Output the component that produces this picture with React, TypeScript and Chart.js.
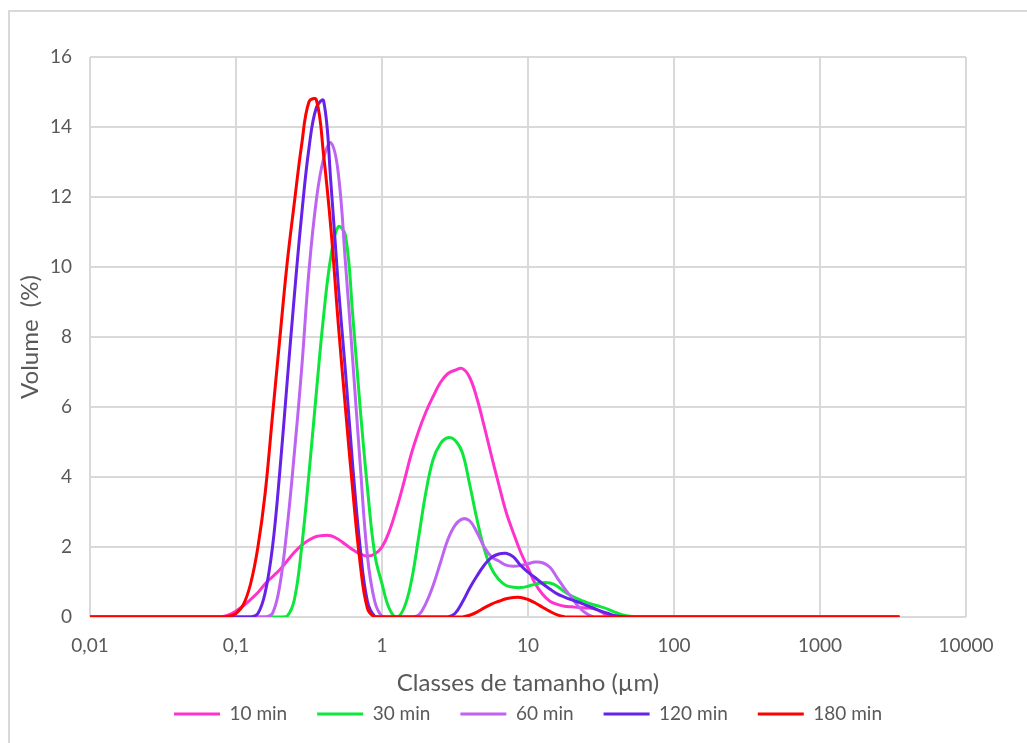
import { useEffect, useRef } from "react";
import { Chart, registerables } from "chart.js";

Chart.register(...registerables);

// Particle size classes (µm) shared by every measurement
const SIZE_CLASSES = [
  0.01, 0.0708, 0.0794, 0.0891, 0.1, 0.1122, 0.1259, 0.1413, 0.1585, 0.1778,
  0.1995, 0.2239, 0.2512, 0.2818, 0.3162, 0.3548, 0.3981, 0.4467, 0.5012, 0.5623,
  0.631, 0.7079, 0.7943, 0.8913, 1.0, 1.122, 1.259, 1.413, 1.585, 1.778,
  1.995, 2.239, 2.512, 2.818, 3.162, 3.548, 3.981, 4.467, 5.012, 5.623,
  6.31, 7.079, 7.943, 8.913, 10.0, 11.22, 12.59, 14.13, 15.85, 17.78,
  19.95, 22.39, 25.12, 28.18, 31.62, 35.48, 39.81, 44.67, 50.12, 56.23,
  63.1, 3500,
];

// Volume (%) per size class for each milling time
const VOL_10_MIN = [
  0, 0, 0.01, 0.06, 0.17, 0.32, 0.5, 0.7, 0.95, 1.15,
  1.35, 1.6, 1.85, 2.05, 2.2, 2.3, 2.33, 2.32, 2.22, 2.07,
  1.92, 1.8, 1.74, 1.8, 2.0, 2.45, 3.1, 3.85, 4.65, 5.3,
  5.85, 6.3, 6.7, 6.95, 7.05, 7.1, 6.85, 6.25, 5.45, 4.6,
  3.78, 3.0, 2.4, 1.85, 1.4, 0.95, 0.65, 0.45, 0.36, 0.31,
  0.29, 0.27, 0.26, 0.24, 0.15, 0.03, 0, 0, 0, 0,
  0, 0,
];
const VOL_30_MIN = [
  0, 0, 0, 0, 0, 0, 0, 0, 0, 0,
  0, 0.02, 0.5, 2.0, 4.1, 6.4, 8.6, 10.3, 11.15, 10.9,
  8.6, 6.0, 3.7, 1.8, 0.95, 0.24, 0.0, 0.25, 1.0, 2.25,
  3.55, 4.5, 4.95, 5.12, 5.05, 4.7, 3.8, 2.8, 1.95, 1.38,
  1.07, 0.9, 0.85, 0.84, 0.88, 0.94, 0.98, 0.97, 0.88, 0.72,
  0.6, 0.5, 0.42, 0.35, 0.29, 0.22, 0.13, 0.06, 0.02, 0,
  0, 0,
];
const VOL_60_MIN = [
  0, 0, 0, 0, 0, 0, 0, 0, 0, 0.1,
  0.9, 2.55, 4.7, 7.1, 9.9, 11.9, 13.1, 13.55, 12.7, 10.1,
  7.3, 4.4, 1.75, 0.45, 0.02, 0, 0, 0, 0, 0.05,
  0.38, 0.9, 1.55, 2.2, 2.62, 2.8, 2.75, 2.42, 2.0, 1.72,
  1.6, 1.48, 1.45, 1.47, 1.52, 1.57, 1.55, 1.42, 1.12, 0.82,
  0.55, 0.28, 0.1, 0, 0, 0, 0, 0, 0, 0,
  0, 0,
];
const VOL_120_MIN = [
  0, 0, 0, 0, 0, 0, 0, 0.1, 0.7, 2.0,
  4.15, 6.7, 9.2, 11.5, 13.4, 14.55, 14.75, 12.4, 9.5, 7.0,
  4.3, 2.0, 0.45, 0.02, 0, 0, 0, 0, 0, 0,
  0, 0, 0, 0, 0.1, 0.42, 0.82, 1.17, 1.48, 1.7,
  1.8, 1.82, 1.72, 1.47, 1.28, 1.12, 0.95, 0.8, 0.66, 0.57,
  0.49, 0.42, 0.33, 0.25, 0.17, 0.1, 0.04, 0.01, 0, 0,
  0, 0,
];
const VOL_180_MIN = [
  0, 0, 0, 0.02, 0.1, 0.35, 0.95, 2.0, 3.55, 5.75,
  7.95, 10.1, 11.85, 13.5, 14.72, 14.78, 13.2, 11.1, 8.4, 5.95,
  3.6, 1.55, 0.25, 0, 0, 0, 0, 0, 0, 0,
  0, 0, 0, 0, 0, 0, 0.05, 0.14, 0.26, 0.37,
  0.45, 0.52, 0.56, 0.56, 0.5, 0.4, 0.28, 0.16, 0.06, 0.01,
  0, 0, 0, 0, 0, 0, 0, 0, 0, 0,
  0, 0,
];

const SERIES_LABELS = ["10 min", "30 min", "60 min", "120 min", "180 min"];
const SERIES_COLORS = ["#FF33CC", "#0DE63A", "#BF63F2", "#6622E8", "#FF0000"];

const X_TICK_VALUES = [0.01, 0.1, 1, 10, 100, 1000, 10000];
const X_TICK_LABELS = ["0,01", "0,1", "1", "10", "100", "1000", "10000"];
const Y_MIN = 0;
const Y_MAX = 16;
const Y_STEP = 2;

const TEXT_COLOR = "#595959";
const GRID_COLOR = "#d9d9d9";
const FONT_FAMILY = "Lato, 'Open Sans', sans-serif";

export default function App() {
  const canvasRef = useRef<HTMLCanvasElement>(null);

  useEffect(() => {
    const canvas = canvasRef.current;
    if (!canvas) return;
    const series = [VOL_10_MIN, VOL_30_MIN, VOL_60_MIN, VOL_120_MIN, VOL_180_MIN];

    const chart = new Chart(canvas, {
      type: "line",
      data: {
        datasets: series.map((values, i) => ({
          label: SERIES_LABELS[i],
          data: SIZE_CLASSES.map((x, j) => ({ x, y: values[j] })),
          borderColor: SERIES_COLORS[i],
          backgroundColor: SERIES_COLORS[i],
          borderWidth: 3,
          pointRadius: 0,
          pointHoverRadius: 0,
          tension: 0.4,
          fill: false,
          // later measurements are drawn on top
          order: series.length - i,
        })),
      },
      options: {
        responsive: false,
        animation: false,
        devicePixelRatio: 1,
        events: [],
        layout: { padding: { top: 57, right: 61, bottom: 9.5, left: 0 } },
        plugins: {
          tooltip: { enabled: false },
          legend: {
            position: "bottom",
            fullSize: false,
            labels: {
              boxWidth: 46,
              boxHeight: 3,
              padding: 30,
              color: TEXT_COLOR,
              font: { family: FONT_FAMILY, size: 19 },
              generateLabels: (c: any) =>
                c.data.datasets.map((ds: any, i: number) => ({
                  text: ds.label,
                  fillStyle: ds.borderColor,
                  strokeStyle: ds.borderColor,
                  lineWidth: 0,
                  hidden: false,
                  datasetIndex: i,
                  fontColor: TEXT_COLOR,
                })),
            },
          },
        },
        scales: {
          x: {
            type: "logarithmic",
            min: X_TICK_VALUES[0],
            max: X_TICK_VALUES[X_TICK_VALUES.length - 1],
            afterBuildTicks: (scale: any) => {
              scale.ticks = X_TICK_VALUES.map((value) => ({ value }));
            },
            afterFit: (scale: any) => {
              scale.height = 57.5;
            },
            ticks: {
              autoSkip: false,
              maxRotation: 0,
              padding: 17,
              color: TEXT_COLOR,
              font: { family: FONT_FAMILY, size: 19 },
              callback: (value: any) => {
                const k = X_TICK_VALUES.indexOf(Number(value));
                return k >= 0 ? X_TICK_LABELS[k] : "";
              },
            },
            grid: { color: GRID_COLOR, lineWidth: 2, drawTicks: false },
            border: { display: false },
            title: {
              display: true,
              text: "Classes de tamanho (µm)",
              color: TEXT_COLOR,
              font: { family: FONT_FAMILY, size: 24 },
              padding: { top: 0, bottom: -23 },
            },
          },
          y: {
            min: Y_MIN,
            max: Y_MAX,
            afterFit: (scale: any) => {
              scale.width = 90;
            },
            ticks: {
              stepSize: Y_STEP,
              padding: 18,
              color: TEXT_COLOR,
              font: { family: FONT_FAMILY, size: 19 },
            },
            grid: { color: GRID_COLOR, lineWidth: 2, drawTicks: false },
            border: { display: false },
            title: {
              display: true,
              text: "Volume  (%)",
              color: TEXT_COLOR,
              font: { family: FONT_FAMILY, size: 24 },
              padding: { top: 16, bottom: 0 },
            },
          },
        },
      },
    });

    return () => chart.destroy();
  }, []);

  return (
    <div
      style={{
        position: "fixed",
        left: 0,
        top: 0,
        width: 1027,
        height: 743,
        overflow: "hidden",
        background: "#ffffff",
      }}
    >
      <div
        style={{
          position: "absolute",
          left: 8,
          top: 10,
          width: 1040,
          height: 760,
          border: "2px solid #d9d9d9",
        }}
      />
      <canvas
        ref={canvasRef}
        width={1027}
        height={743}
        style={{ position: "absolute", left: 0, top: 0, width: 1027, height: 743 }}
      />
    </div>
  );
}
